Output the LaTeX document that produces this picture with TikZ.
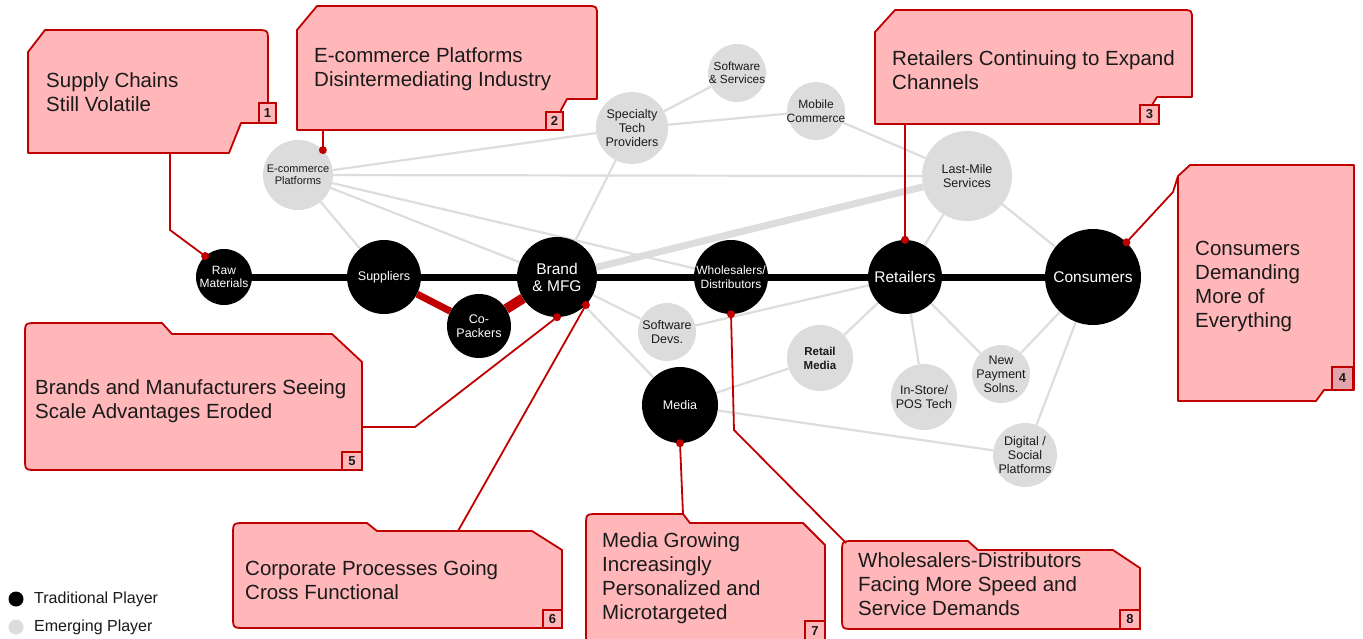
\documentclass[tikz,border=0pt]{standalone}
\usepackage{fontspec}
\setmainfont{Liberation Sans}
\definecolor{cred}{HTML}{C00000}
\definecolor{cpink}{HTML}{FFB7BA}
\definecolor{cpinkb}{HTML}{E3A4AC}
\definecolor{cgray}{HTML}{DCDCDC}
\definecolor{cline}{HTML}{DDDDDD}
\definecolor{ctxt}{HTML}{1A1A1A}
\pgfdeclarelayer{bg}
\pgfsetlayers{bg,main}
\begin{document}
\begin{tikzpicture}[x=1pt,y=-1pt,
  trad/.style={circle, fill=black, inner sep=0},
  emerg/.style={circle, fill=cgray, inner sep=0},
  tl/.style={text=white, align=center, inner sep=0},
  gl/.style={text=ctxt, align=center, inner sep=0},
  glink/.style={draw=cline, line width=2.2},
  blink/.style={draw=black, line width=7},
  rlink/.style={draw=cred, line width=7},
  callout/.style={draw=cred, fill=cpink, line width=1.8, line join=round},
  numbox/.style={draw=cred, fill=cpink, line width=1.8, inner sep=0, font=\bfseries\fontsize{13}{14}\selectfont, text=ctxt},
  ctext/.style={anchor=west, align=left, inner sep=0, text=ctxt, font=\fontsize{20.5}{24}\selectfont},
  callline/.style={draw=cred, line width=1.8},
  rdot/.style={fill=cred},
  fa/.style={font=\fontsize{12.5}{14}\selectfont},
  fb/.style={font=\fontsize{15.5}{17}\selectfont},
  legtext/.style={anchor=west, inner sep=0, text=ctxt, font=\fontsize{16}{18}\selectfont}
]
\begin{pgfonlayer}{bg}
\fill[white] (0,0) rectangle (1363,638);
\end{pgfonlayer}
\useasboundingbox (0,0) rectangle (1363,638);

% ---------- nodes ----------
\node[trad, minimum size=56, label={[tl, font=\fontsize{12}{13}\selectfont]center:Raw\\Materials}] (raw) at (224,277) {};
\node[trad, minimum size=74, label={[tl, fa]center:Suppliers}] (sup) at (384,277) {};
\node[trad, minimum size=80, label={[tl, fb]center:Brand\\\& MFG}] (brand) at (557,277) {};
\node[trad, minimum size=64, label={[tl, fa]center:Co-\\Packers}] (copack) at (479,326) {};
\node[trad, minimum size=74, label={[tl, font=\fontsize{12}{14}\selectfont]center:Wholesalers/\\Distributors}] (whole) at (731,277) {};
\node[trad, minimum size=74, label={[tl, fb]center:Retailers}] (ret) at (905,277) {};
\node[trad, minimum size=96, label={[tl, fb]center:Consumers}] (cons) at (1093,277) {};
\node[trad, minimum size=76, label={[tl, fa]center:Media}] (media) at (680,405) {};

\node[emerg, minimum size=70, label={[gl, font=\fontsize{11}{12.5}\selectfont]center:E-commerce\\Platforms}] (ecom) at (298,175) {};
\node[emerg, minimum size=72, label={[gl, fa]center:Specialty\\Tech\\Providers}] (spec) at (632,128) {};
\node[emerg, minimum size=58, label={[gl, font=\fontsize{11.8}{13.5}\selectfont]center:Software\\\& Services}] (soft) at (737,73) {};
\node[emerg, minimum size=58, label={[gl, font=\fontsize{12}{14}\selectfont]center:Mobile\\Commerce}] (mob) at (816,111) {};
\node[emerg, minimum size=90, label={[gl, fa]center:Last-Mile\\Services}] (last) at (967,176) {};
\node[emerg, minimum size=58, label={[gl, fa]center:Software\\Devs.}] (devs) at (667,332) {};
\node[emerg, minimum size=66, label={[gl, font=\bfseries\fontsize{11.5}{14}\selectfont]center:Retail\\Media}] (rmedia) at (820,358) {};
\node[emerg, minimum size=66, label={[gl, fa]center:In-Store/\\POS Tech}] (instore) at (924,397) {};
\node[emerg, minimum size=58, label={[gl, fa]center:New\\Payment\\Solns.}] (pay) at (1001,374) {};
\node[emerg, minimum size=64, label={[gl, fa]center:Digital /\\Social\\Platforms}] (digi) at (1025,455) {};

% ---------- links (behind nodes) ----------
\begin{pgfonlayer}{bg}
\draw[glink] (ecom) -- (sup);
\draw[glink] (ecom) -- (brand);
\draw[glink] (ecom) -- (whole);
\draw[glink] (ecom) -- (last);
\draw[glink] (ecom) -- (spec);
\draw[glink] (spec) -- (soft);
\draw[glink] (spec) -- (mob);
\draw[glink] (spec) -- (brand);
\draw[glink] (mob) -- (last);
\draw[glink] (last) -- (ret);
\draw[glink] (last) -- (cons);
\draw[glink] (brand) -- (devs);
\draw[glink] (brand) -- (media);
\draw[glink] (devs) -- (ret);
\draw[glink] (media) -- (rmedia);
\draw[glink] (rmedia) -- (ret);
\draw[glink] (media) -- (digi);
\draw[glink] (ret) -- (instore);
\draw[glink] (ret) -- (pay);
\draw[glink] (cons) -- (pay);
\draw[glink] (cons) -- (digi);
\draw[draw=cline, line width=7] (brand) -- (last);
\draw[blink] (raw) -- (sup);
\draw[blink] (sup) -- (brand);
\draw[blink] (brand) -- (whole);
\draw[blink] (whole) -- (ret);
\draw[blink] (ret) -- (cons);
\draw[rlink] (sup) -- (copack);
\draw[rlink, line width=10] (copack) -- (brand);
\end{pgfonlayer}

% ---------- callouts ----------
\draw[callout] (28,52) -- (45,30) -- (256,30) .. controls (268,30) .. (268,42) -- (268,123) -- (241,123) -- (229,153) -- (28,153) -- cycle;
\node[numbox, minimum width=17, minimum height=20] (n1) at (267.5,113) {1};
\node[ctext] (t1) at (46,92) {Supply Chains\\Still Volatile};

\draw[callout] (297,30) -- (317,6) -- (587,6) .. controls (597,6) .. (597,16) -- (597,99) -- (567,99) -- (561,110) -- (561,130) -- (297,130) -- cycle;
\node[numbox, minimum width=17, minimum height=18] (n2) at (554.5,121) {2};
\node[ctext] (t2) at (314,69) {E-commerce Platforms\\Disintermediating Industry};

\draw[callout] (875,32) -- (895,10) -- (1182,10) .. controls (1192,10) .. (1192,20) -- (1192,97) -- (1157,97) -- (1152,105) -- (1152,124) -- (875,124) -- cycle;
\node[numbox, minimum width=19, minimum height=19] (n3) at (1149.5,114.5) {3};
\node[ctext] (t3) at (892,70) {Retailers Continuing to Expand\\Channels};

\draw[callout] (1178,176) -- (1190,165) -- (1354,165) -- (1354,390) -- (1324,390) -- (1316,401) -- (1178,401) -- cycle;
\node[numbox, fill=cpinkb, minimum width=21, minimum height=23] (n4) at (1342.5,378.5) {4};
\node[ctext] (t4) at (1195,286) {Consumers\\Demanding\\More of\\Everything};

\draw[callout] (25,335) .. controls (25,323) .. (37,323) -- (162,323) -- (172,334) -- (332,334) -- (362,362) -- (362,470) -- (37,470) .. controls (25,470) .. (25,458) -- cycle;
\node[numbox, minimum width=20, minimum height=18] (n5) at (352,461) {5};
\node[ctext] (t5) at (35,401) {Brands and Manufacturers Seeing\\Scale Advantages Eroded};

\draw[callout] (233,535) .. controls (233,523) .. (245,523) -- (367,523) -- (377,531) -- (532,531) -- (562,550) -- (562,628) -- (245,628) .. controls (233,628) .. (233,616) -- cycle;
\node[numbox, minimum width=19, minimum height=18] (n6) at (552.5,619) {6};
\node[ctext] (t6) at (245,580) {Corporate Processes Going\\Cross Functional};

\draw[callout] (586,526) .. controls (586,514) .. (598,514) -- (683,514) -- (690,523) -- (803,523) -- (825,545) -- (825,645) -- (586,645) -- cycle;
\node[numbox, minimum width=20, minimum height=20] (n7) at (815,631) {7};
\node[ctext] (t7) at (602,578) {Media Growing\\Increasingly\\Personalized and\\Microtargeted};

\draw[callout] (842,553) .. controls (842,541) .. (854,541) -- (968,541) -- (978,550) -- (1113,550) -- (1140,568) -- (1140,629) -- (854,629) .. controls (842,629) .. (842,617) -- cycle;
\node[numbox, minimum width=20, minimum height=19] (n8) at (1130,619.5) {8};
\node[ctext] (t8) at (858,584) {Wholesalers-Distributors\\Facing More Speed and\\Service Demands};

% ---------- callout connectors ----------
\coordinate (k1) at (170,153);
\coordinate (k2) at (323,130);
\coordinate (k3) at (905,124);
\coordinate (k4) at (1178,176);
\coordinate (k5) at (362,427);
\coordinate (k6) at (458,531);
\coordinate (k7) at (683,514);
\coordinate (k8) at (846,543);
\draw[callline] (k1) -- (170,230) -- (raw.132);
\draw[callline] (k2) -- (ecom.45);
\draw[callline] (k3) -- (ret.90);
\draw[callline] (k4) -- (1173,192) -- (cons.46);
\draw[callline] (k5) -- (415,427) -- (brand.270);
\draw[callline] (k6) -- (brand.-44);
\draw[callline] (k7) -- (media.270);
\draw[callline] (k8) -- (734,430) -- (whole.270);
\fill[rdot] (raw.132) circle (4pt);
\fill[rdot] (ecom.45) circle (4pt);
\fill[rdot] (ret.90) circle (4pt);
\fill[rdot] (cons.46) circle (4pt);
\fill[rdot] (brand.270) circle (4pt);
\fill[rdot] (brand.-44) circle (4pt);
\fill[rdot] (media.270) circle (4pt);
\fill[rdot] (whole.270) circle (4pt);

% ---------- legend ----------
\node[circle, fill=black, inner sep=0, minimum size=15] (legt) at (16,599) {};
\node[legtext] (legtt) at (34,599) {Traditional Player};
\node[circle, fill=cgray, inner sep=0, minimum size=15] (lege) at (16,627) {};
\node[legtext] (leget) at (34,627) {Emerging Player};
\end{tikzpicture}
\end{document}
